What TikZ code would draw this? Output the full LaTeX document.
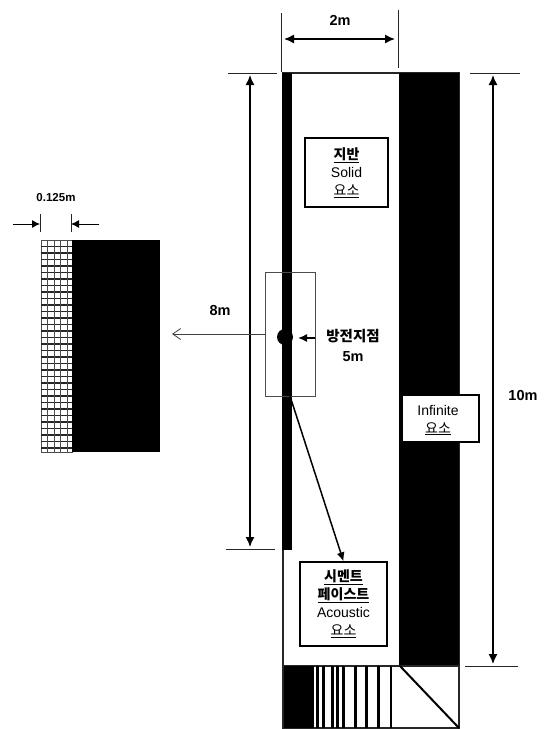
\documentclass[tikz,border=0pt]{standalone}
\usepackage{fontspec}
\setmainfont{Liberation Sans}
\newfontfamily\kr{Noto Sans CJK KR}
\usetikzlibrary{arrows.meta}
\tikzset{
 x=1pt,y=-1pt,
 dimline/.style={line width=1.4pt,{Latex[length=10pt,width=9pt]}-{Latex[length=10pt,width=9pt]}},
 oneway/.style={line width=1.5pt,-{Latex[length=9pt,width=8pt]}},
 tick/.style={line width=0.9pt,black!85},
 label/.style={font=\bfseries\fontsize{14.5}{16}\selectfont,inner sep=0pt},
 infobox/.style={draw,line width=1.3pt,fill=white,align=center,inner sep=0pt,font=\fontsize{14}{18}\selectfont},
 frame/.style={line width=1.1pt,draw=black!85},
 fillblack/.style={fill=black,draw=none}
}
\newcommand{\kor}[1]{{\kr #1}}
\begin{document}
\begin{tikzpicture}
\useasboundingbox (0,0) rectangle (545,729);
% left detail
\draw[black!70,line width=0.7pt] (41,240) rectangle (72,452);
\foreach \yy in {246.5,253,...,452} \draw[black!85,line width=1.1pt] (41,\yy) -- (72,\yy);
\foreach \xx in {47.5,54,...,72} \draw[black!70,line width=1pt] (\xx,240) -- (\xx,452);
\fill[fillblack] (72,240) rectangle (160,452);
\coordinate (ta) at (40,224); \coordinate (tb) at (71,224);
\coordinate (la) at (13,224); \coordinate (lb) at (99,224);
\draw[tick] (40,214) -- (40,232); \draw[tick] (71,214) -- (71,232);
\draw[line width=0.9pt,-{Latex[length=8pt,width=8pt]}] (la) -- (ta);
\draw[line width=0.9pt,-{Latex[length=8pt,width=8pt]}] (lb) -- (tb);
\node[label,font=\bfseries\fontsize{11.5}{13}\selectfont] (w) at (56,198) {0.125m};
% main outline
\draw[frame] (283,73) rectangle (459,728);
\fill[fillblack] (282,73) rectangle (292,550);
\fill[fillblack] (399,73) rectangle (459,666);
\fill[fillblack] (285,337) circle (8);
\draw[frame] (283,666) -- (459,666);
% bottom row
\fill[fillblack] (284,666) rectangle (314,728);
\foreach \xa/\xb in {316/318.5,322/325,331/333.5,336/338.5,342/344.5,354/356.5,365/367.5,377/379.5}
  \fill[fillblack] (\xa,666) rectangle (\xb,728);
\draw[line width=1.6pt] (391,666) -- (391,728);
\draw[line width=2pt] (400,666) -- (459,728);
% 2m
\draw[tick] (281,13) -- (281,72); \draw[tick] (398,10) -- (398,68);
\draw[dimline] (284,39) -- (395,39);
\node[label] (d2) at (340,20) {2m};
% 8m
\draw[tick] (228,73) -- (277,73); \draw[tick] (226,549) -- (275,549);
\draw[dimline] (250,75) -- (250,547);
\node[label] (d8) at (220,311) {8m};
% 10m
\draw[tick] (470,73) -- (520,73); \draw[tick] (465,666) -- (518,666);
\draw[dimline] (493,75) -- (493,664);
\node[label] (d10) at (523,396) {10m};
% zoom rectangle
\node[draw=black!70,line width=0.8pt,minimum width=50pt,minimum height=124pt,inner sep=0pt] (zoomr) at (290,334) {};
\coordinate (zoomt) at (172,334);
\draw[black!75,line width=0.8pt,-{Straight Barb[length=8pt,width=11pt]}] (zoomr.west) -- (zoomt);
% discharge
\node[label,align=center,font=\bfseries\fontsize{14.5}{20}\selectfont] (dis) at (353,345) {\kor{방전지점}\\5m};
\draw[oneway] (315,338) -- (298,338);
% boxes
\node[infobox,minimum width=83pt,minimum height=69pt] (solid) at (346.5,172.5) {\underline{\kor{\bfseries 지반}}\\Solid\\\underline{\kor{요소}}};
\node[infobox,minimum width=77pt,minimum height=47pt] (inf) at (440.5,418.5) {};
\fill[fillblack] (399,385) rectangle (402,450);
\node[inner sep=0pt,align=center,font=\fontsize{14}{18}\selectfont] (inft) at (438,420) {Infinite\\\underline{\kor{요소}}};
\node[infobox,minimum width=87pt,minimum height=84pt] (cem) at (343.5,604) {\underline{\kor{\bfseries 시멘트}}\\\underline{\kor{\bfseries 페이스트}}\\Acoustic\\\underline{\kor{요소}}};
\coordinate (from) at (290,396);
\draw[oneway] (from) -- (cem.north);
\end{tikzpicture}
\end{document}
